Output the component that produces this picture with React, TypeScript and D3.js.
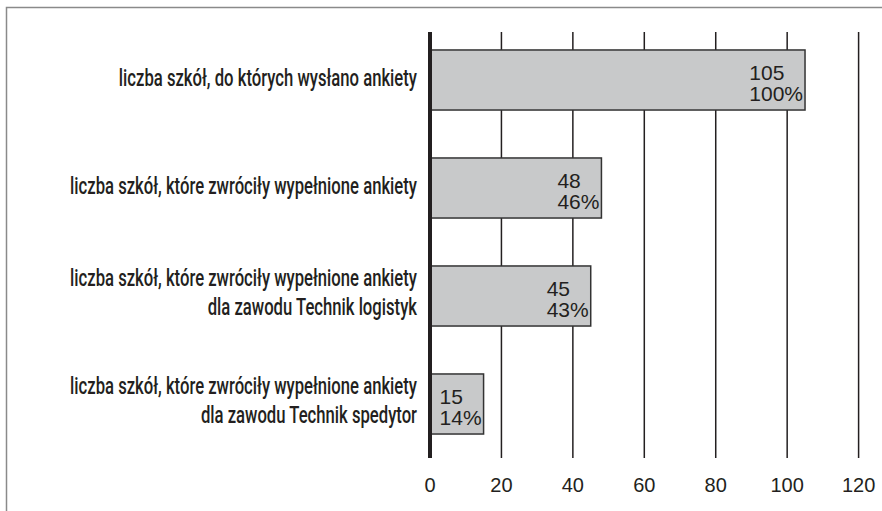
import {useEffect, useRef} from "react";
import * as d3 from 'd3';

// kategorie (etykiety w jednej lub dwóch liniach)
const categories: string[][] = [
  ['liczba szkół, do których wysłano ankiety'],
  ['liczba szkół, które zwróciły wypełnione ankiety'],
  ['liczba szkół, które zwróciły wypełnione ankiety', 'dla zawodu Technik logistyk'],
  ['liczba szkół, które zwróciły wypełnione ankiety', 'dla zawodu Technik spedytor'],
];
const values = [105, 48, 45, 15];
const percents = ['100%', '46%', '43%', '14%'];
const xTicks = [0, 20, 40, 60, 80, 100, 120];

export default function App() {
  const svgRef = useRef<SVGSVGElement>(null);
  const width = 882;
  const height = 511;

  useEffect(() => {
    d3.select(svgRef.current).selectAll('*').remove();
    const svg = d3.select(svgRef.current)
      .attr('width', width)
      .attr('height', height);

    const ink = '#231f20';

    // ramka
    svg.append('rect')
      .attr('x', 6.5).attr('y', 7.5)
      .attr('width', 1000).attr('height', 1000)
      .attr('fill', 'none')
      .attr('stroke', '#8a8a8a')
      .attr('stroke-width', 1.5);

    const x = d3.scaleLinear().domain([0, 120]).range([430, 858.6]);
    const y = d3.scaleBand<number>()
      .domain(d3.range(values.length))
      .range([26, 458])
      .paddingInner(0.444)
      .paddingOuter(0.222);

    const gridTop = 32;
    const gridBottom = 458;

    // linie siatki
    svg.append('g')
      .selectAll('line')
      .data(xTicks.filter(t => t > 0))
      .join('line')
      .attr('x1', d => x(d)).attr('x2', d => x(d))
      .attr('y1', gridTop).attr('y2', gridBottom)
      .attr('stroke', ink)
      .attr('stroke-width', 1.5);

    // słupki
    svg.append('g')
      .selectAll('rect')
      .data(values)
      .join('rect')
      .attr('x', x(0))
      .attr('y', (_, i) => y(i)!)
      .attr('width', d => x(d) - x(0))
      .attr('height', y.bandwidth())
      .attr('fill', '#c8c9ca')
      .attr('stroke', '#333')
      .attr('stroke-width', 1.5);

    // oś pionowa
    svg.append('line')
      .attr('x1', x(0)).attr('x2', x(0))
      .attr('y1', gridTop).attr('y2', gridBottom)
      .attr('stroke', ink)
      .attr('stroke-width', 4);

    // etykiety osi X
    svg.append('g')
      .selectAll('text')
      .data(xTicks)
      .join('text')
      .attr('x', d => x(d))
      .attr('y', 492)
      .attr('text-anchor', 'middle')
      .attr('font-family', 'Liberation Sans, Arial, sans-serif')
      .attr('font-size', 20)
      .attr('fill', ink)
      .text(d => d);

    // wartości w słupkach
    values.forEach((v, i) => {
      const cy = y(i)! + y.bandwidth() / 2;
      const g = svg.append('g')
        .attr('font-family', 'Liberation Sans, Arial, sans-serif')
        .attr('font-size', 21)
        .attr('fill', ink);
      const pct = g.append('text')
        .attr('x', x(v) - 2)
        .attr('y', cy + 21)
        .attr('text-anchor', 'end')
        .text(percents[i]);
      const w = (pct.node() as SVGTextElement).getComputedTextLength();
      g.append('text')
        .attr('x', x(v) - 2 - w)
        .attr('y', cy)
        .text(v);
    });

    // etykiety kategorii (czcionka zwężona)
    const labels = svg.append('g')
      .attr('transform', 'translate(417,0)');
    const inner = labels.append('g')
      .attr('font-family', 'Roboto, sans-serif')
      .attr('font-size', 24)
      .attr('font-weight', 500)
      .attr('fill', ink)
      .attr('text-anchor', 'end');
    categories.forEach((lines, i) => {
      const cy = y(i)! + y.bandwidth() / 2;
      lines.forEach((line, j) => {
        const base = lines.length === 1 ? cy + 6 : cy - 9.5 + j * 28.5;
        inner.append('text')
          .attr('x', 0)
          .attr('y', base)
          .text(line);
      });
    });
    let maxW = 0;
    inner.selectAll<SVGTextElement, unknown>('text').each(function () {
      maxW = Math.max(maxW, this.getComputedTextLength());
    });
    const k = maxW > 0 ? 347 / maxW : 1;
    inner.attr('transform', `scale(${k},1)`);
  }, []);

  return (
    <div>
      <svg ref={svgRef} style={{position: 'absolute', left: 0, top: 0}}></svg>
    </div>
  );
}
